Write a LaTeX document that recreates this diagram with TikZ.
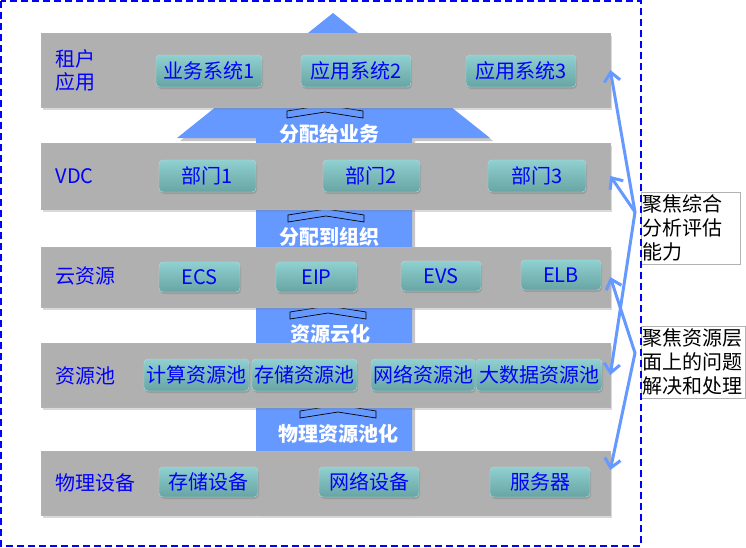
\documentclass[tikz,border=0pt]{standalone}
\usepackage{fontspec}
\setmainfont{Noto Sans CJK SC}
\usetikzlibrary{positioning}
\usetikzlibrary{arrows.meta}
\usetikzlibrary{shadows}
\definecolor{bargray}{HTML}{B0B0B0}
\definecolor{flowblue}{HTML}{6699FF}
\definecolor{tealtop}{HTML}{90D0D0}
\definecolor{tealbot}{HTML}{68A4A4}
\definecolor{labelblue}{HTML}{0000FF}
\tikzset{
    layer/.style={
        rectangle,
        fill=bargray,
        draw=gray!60,
        line width=0.6pt,
        minimum width=569pt,
        inner sep=0pt,
        drop shadow={shadow xshift=2pt, shadow yshift=-3pt, opacity=0.3}
    },
    layername/.style={
        anchor=west,
        align=left,
        text=labelblue,
        font=\fontsize{20}{23}\selectfont
    },
    unit/.style={
        rectangle,
        rounded corners=4pt,
        draw=tealtop!70!white,
        top color=tealtop,
        bottom color=tealbot,
        text=labelblue,
        font=\fontsize{20}{24}\selectfont,
        minimum height=32pt,
        inner sep=0pt,
        drop shadow={shadow xshift=1pt, shadow yshift=-2pt, opacity=0.4}
    },
    flowtext/.style={
        text=white,
        font=\bfseries\fontsize{20}{24}\selectfont
    },
    chevron/.style={
        draw=black,
        fill=flowblue,
        line width=0.7pt
    },
    note/.style={
        draw=gray!60,
        fill=white,
        align=left,
        inner sep=1pt,
        minimum height=72pt,
        font=\fontsize{20}{24}\selectfont
    },
    link/.style={
        draw=flowblue,
        line width=3pt,
        line cap=round,
        -{Straight Barb[length=9pt, width=16pt]}
    },
    frame/.style={
        draw=labelblue,
        line width=2pt,
        dash pattern=on 7pt off 4pt
    }
}

\begin{document}
\begin{tikzpicture}[x=1pt, y=-1pt]
                \useasboundingbox (0,0) rectangle (746,547);

                \fill[flowblue, drop shadow={shadow xshift=3pt, shadow yshift=-3pt, opacity=0.45}]
                    (256,513) -- (256,138) -- (177,138) -- (333,13) -- (490,138) -- (412,138) -- (412,513) -- cycle;
                \foreach \cx/\cy in {325/105, 326/209, 328/306, 338/405}
                    \draw[chevron] (\cx-38,\cy+13) -- (\cx-38,\cy+6) -- (\cx,\cy) -- (\cx+38,\cy+6)
                        -- (\cx+38,\cy+13) -- (\cx,\cy+7) -- cycle;
                \node[flowtext] (give) at (329,134) {分配给业务};
                \node[flowtext] (org) at (329,237) {分配到组织};
                \node[flowtext] (cloudify) at (330,334) {资源云化};
                \node[flowtext] (pooling) at (338,434) {物理资源池化};

                \node[layer, minimum height=74pt] (app) at (325.5,70) {};
                \node[layer, minimum height=66pt] (vdc) at (325.5,176) {};
                \node[layer, minimum height=60pt] (cloud) at (325.5,277) {};
                \node[layer, minimum height=64pt] (pool) at (325.5,375) {};
                \node[layer, minimum height=64pt] (phys) at (325.5,483) {};

                \node[layername] (appname) at (52,70) {租户\\应用};
                \node[layername] (vdcname) at (52,176) {VDC};
                \node[layername] (cloudname) at (52,276) {云资源};
                \node[layername] (poolname) at (52,376) {资源池};
                \node[layername] (physname) at (52,483) {物理设备};

                \node[unit, minimum width=106pt] (sys1) at (209,71) {业务系统1};
                \node[unit, minimum width=110pt] (sys2) at (356,71) {应用系统2};
                \node[unit, minimum width=110pt] (sys3) at (521,71) {应用系统3};

                \node[unit, minimum width=97pt] (dept1) at (207.5,176) {部门1};
                \node[unit, minimum width=97pt] (dept2) at (371.5,176) {部门2};
                \node[unit, minimum width=98pt] (dept3) at (537,176) {部门3};

                \node[unit, minimum width=81pt, minimum height=30pt] (ecs) at (199.5,277) {ECS};
                \node[unit, minimum width=81pt, minimum height=30pt] (eip) at (316.5,277) {EIP};
                \node[unit, minimum width=80pt, minimum height=30pt] (evs) at (441,276) {EVS};
                \node[unit, minimum width=80pt, minimum height=30pt] (elb) at (561,275) {ELB};

                \node[unit, minimum width=105pt] (compute) at (196.5,375) {计算资源池};
                \node[unit, minimum width=105pt] (storage) at (304.5,375) {存储资源池};
                \node[unit, minimum width=104pt] (network) at (423,375) {网络资源池};
                \node[unit, minimum width=126pt] (bigdata) at (539,375) {大数据资源池};

                \node[unit, minimum width=99pt, minimum height=30pt] (disk) at (208.5,482) {存储设备};
                \node[unit, minimum width=100pt, minimum height=30pt] (switch) at (369,482) {网络设备};
                \node[unit, minimum width=100pt, minimum height=30pt] (server) at (540,482) {服务器};

                \node[note, text width=97pt] (focus1) at (690.5,228) {聚焦综合\\分析评估\\能力};
                \node[note, text width=102pt] (focus2) at (693,362) {聚焦资源层\\面上的问题\\解决和处理};

                \coordinate (p1) at (635,212);
                \coordinate (p2) at (635,353);
                \draw[link] (p1) -- (app.east);
                \draw[link] (p1) -- (vdc.east);
                \draw[link] (p1) -- (pool.east);
                \draw[link] (p2) -- (cloud.east);
                \draw[link] (p2) -- ([yshift=13pt]phys.east);

                \draw[frame] (1,1) rectangle (641,546);
            \end{tikzpicture}
\end{document}
